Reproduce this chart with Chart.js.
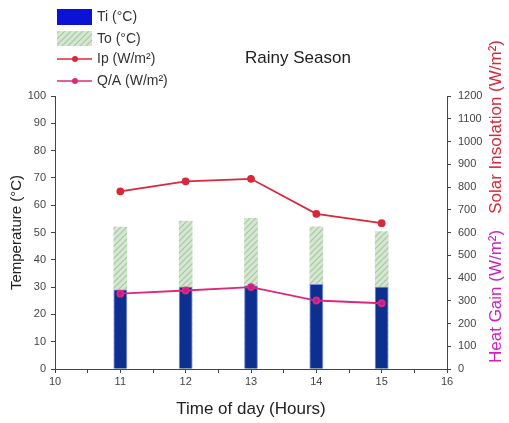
<!DOCTYPE html>
<html lang="en">
<head>
    <meta charset="UTF-8">
    <title>Rainy Season</title>
    <script src="https://cdn.jsdelivr.net/npm/chart.js@4.4.0/dist/chart.umd.min.js"></script>
    <style>
        body {
            margin: 0;
            background: #ffffff;
        }
        #wrap {
            width: 509px;
            height: 423px;
        }
    </style>
</head>
<body>
    <div id="wrap">
        <canvas id="rainyChart" width="509" height="423"></canvas>
    </div>

    <script>
        // values
        const hours = [11, 12, 13, 14, 15];
        const tiValues = [29, 30, 30.5, 31, 30];
        const toValues = [52, 54.2, 55.2, 52.1, 50.3];
        const ipValues = [781, 825, 836, 682, 641];
        const qaValues = [331, 345, 360, 301, 289];

        const FONT = 'Liberation Sans, Arial, sans-serif';

        // hatched green fill for To bars
        function hatch() {
            const c = document.createElement('canvas');
            c.width = 6;
            c.height = 6;
            const g = c.getContext('2d');
            g.fillStyle = '#d4e7d0';
            g.fillRect(0, 0, 6, 6);
            g.strokeStyle = '#a8c8a2';
            g.lineWidth = 1.2;
            g.beginPath();
            g.moveTo(0, 6); g.lineTo(6, 0);
            g.moveTo(-1, 1); g.lineTo(1, -1);
            g.moveTo(5, 7); g.lineTo(7, 5);
            g.stroke();
            return g.createPattern(c, 'repeat');
        }
        const toFill = hatch();

        const pts = arr => hours.map((h, i) => ({ x: h, y: arr[i] }));

        // legend, title and right-hand axis title
        const decorations = {
            id: 'decorations',
            afterDraw(chart) {
                const ctx = chart.ctx;
                ctx.save();
                ctx.font = '14px ' + FONT;
                ctx.textBaseline = 'middle';

                // legend
                ctx.fillStyle = '#0a12d6';
                ctx.fillRect(57, 9, 35, 16);
                ctx.fillStyle = toFill;
                ctx.fillRect(57, 31, 35, 15);
                ctx.lineWidth = 1.5;
                [[59, '#d8283a'], [81, '#e0287a']].forEach(([y, col]) => {
                    ctx.strokeStyle = col;
                    ctx.beginPath();
                    ctx.moveTo(57, y);
                    ctx.lineTo(92, y);
                    ctx.stroke();
                    ctx.fillStyle = col;
                    ctx.beginPath();
                    ctx.arc(75, y, 3, 0, Math.PI * 2);
                    ctx.fill();
                });
                ctx.fillStyle = '#333';
                ctx.fillText('Ti (°C)', 97, 17);
                ctx.fillText('To (°C)', 97, 39);
                ctx.fillText('Ip (W/m²)', 97, 59);
                ctx.fillText('Q/A (W/m²)', 97, 81);

                // title
                ctx.font = '17px ' + FONT;
                ctx.textAlign = 'center';
                ctx.fillStyle = '#222';
                ctx.fillText('Rainy Season', 298, 58);

                // right axis title in two colours
                ctx.translate(496, 363);
                ctx.rotate(-Math.PI / 2);
                ctx.textAlign = 'left';
                ctx.font = '17px ' + FONT;
                ctx.fillStyle = '#d020c0';
                const a = 'Heat Gain (W/m²)';
                ctx.fillText(a, 0, 0);
                const w = ctx.measureText(a).width;
                ctx.fillStyle = '#d8283a';
                ctx.fillText('Solar Insolation (W/m²)', w + 16, 0);
                ctx.restore();
            }
        };

        new Chart(document.getElementById('rainyChart'), {
            type: 'bar',
            data: {
                datasets: [
                    {
                        type: 'line',
                        label: 'Ip (W/m²)',
                        data: pts(ipValues),
                        yAxisID: 'y2',
                        borderColor: '#d8283a',
                        backgroundColor: '#d8283a',
                        borderWidth: 1.8,
                        pointRadius: 3,
                        order: 0
                    },
                    {
                        type: 'line',
                        label: 'Q/A (W/m²)',
                        data: pts(qaValues),
                        yAxisID: 'y2',
                        borderColor: '#e0287a',
                        backgroundColor: '#b8209a',
                        borderWidth: 1.8,
                        pointRadius: 3,
                        order: 0
                    },
                    {
                        label: 'Ti (°C)',
                        data: pts(tiValues),
                        yAxisID: 'y',
                        backgroundColor: '#0d2f8f',
                        borderColor: '#7d8fe0',
                        borderWidth: 1,
                        barThickness: 13,
                        grouped: false,
                        order: 1
                    },
                    {
                        label: 'To (°C)',
                        data: pts(toValues),
                        yAxisID: 'y',
                        backgroundColor: toFill,
                        borderWidth: 0,
                        barThickness: 13,
                        grouped: false,
                        order: 2
                    }
                ]
            },
            options: {
                responsive: false,
                animation: false,
                layout: { padding: { top: 96, left: 0, right: 0, bottom: 0 } },
                plugins: {
                    legend: { display: false },
                    tooltip: { enabled: false }
                },
                scales: {
                    x: {
                        type: 'linear',
                        offset: false,
                        min: 10,
                        max: 16,
                        afterFit: s => { s.height = 54; },
                        border: { display: true, color: '#444', width: 1 },
                        grid: { offset: false, drawOnChartArea: false, drawTicks: true, tickLength: 4, color: '#444' },
                        ticks: {
                            stepSize: 0.5,
                            padding: 2,
                            color: '#444',
                            font: { family: FONT, size: 11 },
                            callback: v => Number.isInteger(v) ? v : ''
                        },
                        title: {
                            display: true,
                            text: 'Time of day (Hours)',
                            color: '#222',
                            font: { family: FONT, size: 17 },
                            padding: { top: 0, bottom: 3 }
                        }
                    },
                    y: {
                        position: 'left',
                        min: 0,
                        max: 100,
                        afterFit: s => { s.width = 55; },
                        border: { display: true, color: '#444', width: 1 },
                        grid: { drawOnChartArea: false, drawTicks: true, tickLength: 4, color: '#444' },
                        ticks: {
                            stepSize: 5,
                            padding: 5,
                            color: '#444',
                            font: { family: FONT, size: 11 },
                            callback: v => v % 10 === 0 ? v : ''
                        },
                        title: {
                            display: true,
                            text: 'Temperature (°C)',
                            color: '#222',
                            font: { family: FONT, size: 15 },
                            padding: { top: 8, bottom: 0 }
                        }
                    },
                    y2: {
                        position: 'right',
                        min: 0,
                        max: 1200,
                        afterFit: s => { s.width = 62; },
                        border: { display: true, color: '#444', width: 1 },
                        grid: { drawOnChartArea: false, drawTicks: true, tickLength: 4, color: '#444' },
                        ticks: {
                            stepSize: 50,
                            padding: 7,
                            color: '#444',
                            font: { family: FONT, size: 11 },
                            callback: v => v % 100 === 0 ? v : ''
                        }
                    }
                }
            },
            plugins: [decorations]
        });
    </script>
</body>
</html>
